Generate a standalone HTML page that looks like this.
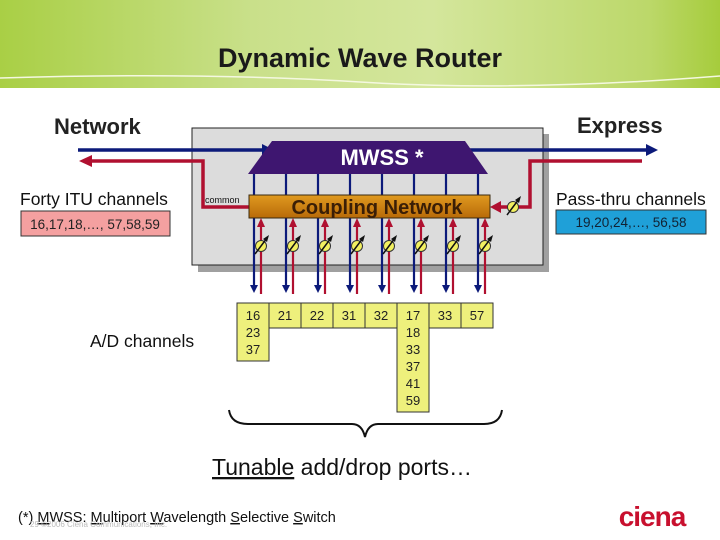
<!DOCTYPE html>
<html><head><meta charset="utf-8"><style>
html,body{margin:0;padding:0;background:#fff;}
svg{display:block;font-family:"Liberation Sans",Arial,sans-serif;}
</style></head><body>
<svg width="720" height="540" viewBox="0 0 720 540" xmlns="http://www.w3.org/2000/svg">
<defs>
<linearGradient id="hdr" x1="0" y1="0" x2="1" y2="0">
<stop offset="0" stop-color="#a9cf45"/><stop offset="0.35" stop-color="#c9e08a"/><stop offset="0.6" stop-color="#d4e69c"/><stop offset="0.9" stop-color="#bcd86a"/><stop offset="1" stop-color="#a6cc3c"/>
</linearGradient>
<linearGradient id="cp" x1="0" y1="0" x2="0" y2="1">
<stop offset="0" stop-color="#e09a20"/><stop offset="1" stop-color="#b86a08"/>
</linearGradient>
<g id="att">
<circle cx="0" cy="0" r="5.5" fill="#f2f060" stroke="#333" stroke-width="1"/>
<line x1="-6" y1="8" x2="6" y2="-8" stroke="#111" stroke-width="1.5"/>
<path d="M8,-11 L2,-7 L6,-4 Z" fill="#111"/>
</g>
</defs>
<rect x="0" y="0" width="720" height="88" fill="url(#hdr)"/>
<path d="M0,78 Q200,72 360,82 T720,76" stroke="#f4f8e0" stroke-width="1.5" fill="none"/>
<text x="360" y="67" text-anchor="middle" font-size="27" font-weight="bold" fill="#1a1a1a">Dynamic Wave Router</text>

<text x="54" y="134" font-size="22" font-weight="bold" fill="#222">Network</text>
<text x="577" y="133" font-size="22" font-weight="bold" fill="#222">Express</text>

<rect x="198" y="134" width="351" height="138" fill="#a0a0a0"/>
<rect x="192" y="128" width="351" height="137" fill="#dcdcdc" stroke="#222" stroke-width="1"/>

<line x1="78" y1="150" x2="264" y2="150" stroke="#0c1a7a" stroke-width="3.5"/>
<path d="M274,150 L262,144 L262,156 Z" fill="#0c1a7a"/>
<line x1="465" y1="150" x2="648" y2="150" stroke="#0c1a7a" stroke-width="3.5"/>
<path d="M658,150 L646,144 L646,156 Z" fill="#0c1a7a"/>
<polyline points="90,161 203,161 203,207 249,207" fill="none" stroke="#b01030" stroke-width="3.5"/>
<path d="M79,161 L92,155 L92,167 Z" fill="#b01030"/>
<polyline points="642,161 530,161 530,207 500,207" fill="none" stroke="#b01030" stroke-width="3.5"/>
<path d="M490,207 L501,201 L501,213 Z" fill="#b01030"/>
<use href="#att" x="513" y="207"/>

<path d="M272,141 L465,141 L488,174 L248,174 Z" fill="#3e1670"/>
<text x="382" y="165" text-anchor="middle" font-size="22" font-weight="bold" fill="#fff">MWSS *</text>

<g stroke-width="2.2">
<line x1="254" y1="174" x2="254" y2="286" stroke="#0c1a7a"/><line x1="261" y1="294" x2="261" y2="225" stroke="#b01030"/>
<line x1="286" y1="174" x2="286" y2="286" stroke="#0c1a7a"/><line x1="293" y1="294" x2="293" y2="225" stroke="#b01030"/>
<line x1="318" y1="174" x2="318" y2="286" stroke="#0c1a7a"/><line x1="325" y1="294" x2="325" y2="225" stroke="#b01030"/>
<line x1="350" y1="174" x2="350" y2="286" stroke="#0c1a7a"/><line x1="357" y1="294" x2="357" y2="225" stroke="#b01030"/>
<line x1="382" y1="174" x2="382" y2="286" stroke="#0c1a7a"/><line x1="389" y1="294" x2="389" y2="225" stroke="#b01030"/>
<line x1="414" y1="174" x2="414" y2="286" stroke="#0c1a7a"/><line x1="421" y1="294" x2="421" y2="225" stroke="#b01030"/>
<line x1="446" y1="174" x2="446" y2="286" stroke="#0c1a7a"/><line x1="453" y1="294" x2="453" y2="225" stroke="#b01030"/>
<line x1="478" y1="174" x2="478" y2="286" stroke="#0c1a7a"/><line x1="485" y1="294" x2="485" y2="225" stroke="#b01030"/>
</g>
<g fill="#0c1a7a">
<path d="M250,285 L258,285 L254,293 Z"/><path d="M282,285 L290,285 L286,293 Z"/><path d="M314,285 L322,285 L318,293 Z"/><path d="M346,285 L354,285 L350,293 Z"/>
<path d="M378,285 L386,285 L382,293 Z"/><path d="M410,285 L418,285 L414,293 Z"/><path d="M442,285 L450,285 L446,293 Z"/><path d="M474,285 L482,285 L478,293 Z"/>
</g>
<g fill="#b01030">
<path d="M257,227 L265,227 L261,218 Z"/><path d="M289,227 L297,227 L293,218 Z"/><path d="M321,227 L329,227 L325,218 Z"/><path d="M353,227 L361,227 L357,218 Z"/>
<path d="M385,227 L393,227 L389,218 Z"/><path d="M417,227 L425,227 L421,218 Z"/><path d="M449,227 L457,227 L453,218 Z"/><path d="M481,227 L489,227 L485,218 Z"/>
</g>
<use href="#att" x="261" y="246"/><use href="#att" x="293" y="246"/><use href="#att" x="325" y="246"/><use href="#att" x="357" y="246"/>
<use href="#att" x="389" y="246"/><use href="#att" x="421" y="246"/><use href="#att" x="453" y="246"/><use href="#att" x="485" y="246"/>

<rect x="249" y="195" width="241" height="23" fill="url(#cp)" stroke="#3a2a10" stroke-width="1"/>
<text x="377" y="214" text-anchor="middle" font-size="20" font-weight="bold" fill="#3a1e06">Coupling Network</text>
<text x="205" y="203" font-size="9" fill="#111">common</text>

<text x="20" y="205" font-size="17.5" fill="#111">Forty ITU channels</text>
<rect x="21" y="211" width="149" height="25" fill="#f4a0a0" stroke="#333" stroke-width="1"/>
<text x="95" y="229" text-anchor="middle" font-size="13.5" fill="#222">16,17,18,…, 57,58,59</text>
<text x="556" y="205" font-size="17.5" fill="#111">Pass-thru channels</text>
<rect x="556" y="210" width="150" height="24" fill="#1fa0d8" stroke="#333" stroke-width="1"/>
<text x="631" y="227" text-anchor="middle" font-size="13.5" fill="#123">19,20,24,…, 56,58</text>
<text x="90" y="347" font-size="17.5" fill="#111">A/D channels</text>

<g fill="#eef07c" stroke="#333" stroke-width="1">
<rect x="237" y="303" width="32" height="58"/>
<rect x="269" y="303" width="32" height="25"/>
<rect x="301" y="303" width="32" height="25"/>
<rect x="333" y="303" width="32" height="25"/>
<rect x="365" y="303" width="32" height="25"/>
<rect x="397" y="303" width="32" height="109"/>
<rect x="429" y="303" width="32" height="25"/>
<rect x="461" y="303" width="32" height="25"/>
</g>
<g font-size="13" fill="#222" text-anchor="middle">
<text x="253" y="320">16</text><text x="253" y="337">23</text><text x="253" y="354">37</text>
<text x="285" y="320">21</text><text x="317" y="320">22</text><text x="349" y="320">31</text><text x="381" y="320">32</text>
<text x="413" y="320">17</text><text x="413" y="337">18</text><text x="413" y="354">33</text><text x="413" y="371">37</text><text x="413" y="388">41</text><text x="413" y="405">59</text>
<text x="445" y="320">33</text><text x="477" y="320">57</text>
</g>

<path d="M229,410 Q231,424 248,424 L352,424 Q362,424 365,437 Q368,424 378,424 L484,424 Q500,424 502,410" fill="none" stroke="#111" stroke-width="2"/>
<text x="212" y="475" font-size="23" fill="#111"><tspan text-decoration="underline">Tunable</tspan> add/drop ports…</text>

<text x="18" y="522" font-size="14.5" fill="#111">(*) <tspan text-decoration="underline">M</tspan>WSS: <tspan text-decoration="underline">M</tspan>ultiport <tspan text-decoration="underline">W</tspan>avelength <tspan text-decoration="underline">S</tspan>elective <tspan text-decoration="underline">S</tspan>witch</text>
<text x="30" y="527" font-size="8" fill="#bbb">29   ©2006 Ciena Communications, Inc.</text>
<text x="652" y="526" text-anchor="middle" font-size="28" font-weight="bold" fill="#c8102e" letter-spacing="-1">ciena</text>
</svg>
</body></html>
